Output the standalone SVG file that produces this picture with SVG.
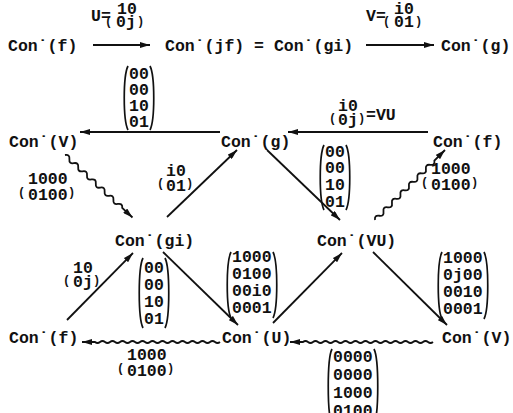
<svg xmlns="http://www.w3.org/2000/svg" width="513" height="413" viewBox="0 0 513 413">
<style>
text { font-family: "Liberation Mono", "DejaVu Sans Mono", monospace; font-size: 16.5px; font-weight: bold; fill: #111; }
text.sp { font-size: 12px; }
.ln { stroke: #111; stroke-width: 1.8; fill: none; }
.pr { stroke: #111; stroke-width: 1.7; fill: none; }
</style>
<defs>
<marker id="ah" viewBox="0 0 10 6" refX="10" refY="3" markerWidth="10" markerHeight="6" markerUnits="userSpaceOnUse" orient="auto">
<path d="M0,0 L10,3 L0,6 z" fill="#111"/>
</marker>
</defs>
<rect width="513" height="413" fill="#fff"/>

<g id="connectors">
<line class="ln" x1="93" y1="45" x2="150" y2="45" marker-end="url(#ah)"/>
<line class="ln" x1="366" y1="45" x2="434" y2="45" marker-end="url(#ah)"/>
<line class="ln" x1="220" y1="132" x2="80" y2="132" marker-end="url(#ah)"/>
<line class="ln" x1="428" y1="132" x2="288" y2="132" marker-end="url(#ah)"/>
<path class="ln" transform="translate(65,155) rotate(42.8)" d="M0,0 q3,-4 6,0 t6,0 t6,0 t6,0 t6,0 t6,0 t6,0 t6,0 t6,0 t6,0 t6,0 t6,0 t6,0 h14" marker-end="url(#ah)"/>
<line class="ln" x1="167" y1="217" x2="237" y2="150" marker-end="url(#ah)"/>
<line class="ln" x1="267" y1="150" x2="340" y2="220" marker-end="url(#ah)"/>
<path class="ln" transform="translate(375,220) rotate(-45)" d="M0,0 q3,-4 6,0 t6,0 t6,0 t6,0 t6,0 t6,0 t6,0 t6,0 t6,0 t6,0 t6,0 t6,0 t6,0 t6,0 h15" marker-end="url(#ah)"/>
<line class="ln" x1="67" y1="320" x2="133" y2="253" marker-end="url(#ah)"/>
<line class="ln" x1="163" y1="252" x2="238" y2="325" marker-end="url(#ah)"/>
<line class="ln" x1="273" y1="323" x2="342" y2="253" marker-end="url(#ah)"/>
<line class="ln" x1="373" y1="252" x2="447" y2="325" marker-end="url(#ah)"/>
<path class="ln" transform="translate(220,342) rotate(180)" d="M0,0 q2.5,-2 5,0 t5,0 t5,0 t5,0 t5,0 t5,0 t5,0 t5,0 t5,0 t5,0 t5,0 t5,0 t5,0 t5,0 t5,0 t5,0 t5,0 t5,0 t5,0 t5,0 t5,0 t5,0 t5,0 t5,0 t5,0 h13" marker-end="url(#ah)"/>
<path class="ln" transform="translate(433,342) rotate(180)" d="M0,0 q2.5,-2 5,0 t5,0 t5,0 t5,0 t5,0 t5,0 t5,0 t5,0 t5,0 t5,0 t5,0 t5,0 t5,0 t5,0 t5,0 t5,0 t5,0 t5,0 t5,0 t5,0 t5,0 t5,0 t5,0 t5,0 t5,0 t5,0 h13" marker-end="url(#ah)"/>
</g>

<g id="nodes">
<g id="n-f-top"><text x="8" y="51">Con˙(f)</text></g>
<g id="n-jf-gi"><text x="165" y="51">Con˙(jf) = Con˙(gi)</text></g>
<g id="n-g-top"><text x="441" y="51">Con˙(g)</text></g>
<g id="n-V-mid"><text x="9" y="147">Con˙(V)</text></g>
<g id="n-g-mid"><text x="221" y="147">Con˙(g)</text></g>
<g id="n-f-mid"><text x="433" y="147">Con˙(f)</text></g>
<g id="n-gi"><text x="115" y="246">Con˙(gi)</text></g>
<g id="n-VU"><text x="317" y="246">Con˙(VU)</text></g>
<g id="n-f-bot"><text x="9" y="343">Con˙(f)</text></g>
<g id="n-U"><text x="222" y="343">Con˙(U)</text></g>
<g id="n-V-bot"><text x="442" y="343">Con˙(V)</text></g>
</g>

<g id="labels">
<g id="l-U"><text x="91" y="21">U=</text><text class="sp" x="105" y="25">(</text><text x="117" y="14">10</text><text x="116" y="27">0j</text><text class="sp" x="137" y="25">)</text></g>
<g id="l-V"><text x="366" y="21">V=</text><text class="sp" x="383" y="25">(</text><text x="394" y="14">i0</text><text x="394" y="27">01</text><text class="sp" x="415" y="25">)</text></g>
<g id="l-VU"><text class="sp" x="329" y="122">(</text><text x="338" y="111">i0</text><text x="338" y="125">0j</text><text class="sp" x="358" y="122">)</text><text x="366" y="120">=VU</text></g>
<g id="l-i0"><text class="sp" x="157" y="187">(</text><text x="166" y="176">i0</text><text x="166" y="191">01</text><text class="sp" x="186" y="187">)</text></g>
<g id="l-1000-left"><text class="sp" x="18" y="196">(</text><text x="28" y="184">1000</text><text x="28" y="200">0100</text><text class="sp" x="68" y="196">)</text></g>
<g id="l-1000-right"><text class="sp" x="421" y="186">(</text><text x="431" y="174">1000</text><text x="431" y="190">0100</text><text class="sp" x="471" y="186">)</text></g>
<g id="l-10-0j"><text class="sp" x="63" y="284">(</text><text x="73" y="273">10</text><text x="73" y="287">0j</text><text class="sp" x="93" y="284">)</text></g>
<g id="l-1000-bot"><text class="sp" x="117" y="372">(</text><text x="127" y="360">1000</text><text x="127" y="376">0100</text><text class="sp" x="167" y="372">)</text></g>

<g id="m-top">
<text x="129" y="79">00</text><text x="129" y="95">00</text><text x="129" y="111">10</text><text x="129" y="127">01</text>
<path class="pr" d="M128,66 C123,76 123,120 128,130"/><path class="pr" d="M150,66 C155,76 155,120 150,130"/>
</g>
<g id="m-mid">
<text x="325" y="157">00</text><text x="325" y="173">00</text><text x="325" y="190">10</text><text x="325" y="207">01</text>
<path class="pr" d="M324,145 C319,155 319,200 324,210"/><path class="pr" d="M346,145 C351,155 351,200 346,210"/>
</g>
<g id="m-gi">
<text x="144" y="273">00</text><text x="144" y="290">00</text><text x="144" y="307">10</text><text x="144" y="324">01</text>
<path class="pr" d="M143,258 C138,268 138,318 143,328"/><path class="pr" d="M165,258 C170,268 170,318 165,328"/>
</g>
<g id="m-U">
<text x="232" y="262">1000</text><text x="232" y="279">0100</text><text x="232" y="296">00i0</text><text x="232" y="313">0001</text>
<path class="pr" d="M231,252 C226,262 226,308 231,318"/><path class="pr" d="M273,252 C278,262 278,308 273,318"/>
</g>
<g id="m-V">
<text x="443" y="263">1000</text><text x="443" y="280">0j00</text><text x="443" y="297">0010</text><text x="443" y="314">0001</text>
<path class="pr" d="M442,252 C437,262 437,309 442,319"/><path class="pr" d="M484,252 C489,262 489,309 484,319"/>
</g>
<g id="m-bot">
<text x="333" y="362">0000</text><text x="333" y="380">0000</text><text x="333" y="398">1000</text><text x="333" y="416">0100</text>
<path class="pr" d="M332,349 C327,359 327,414 332,424"/><path class="pr" d="M374,349 C379,359 379,414 374,424"/>
</g>
</g>
</svg>
